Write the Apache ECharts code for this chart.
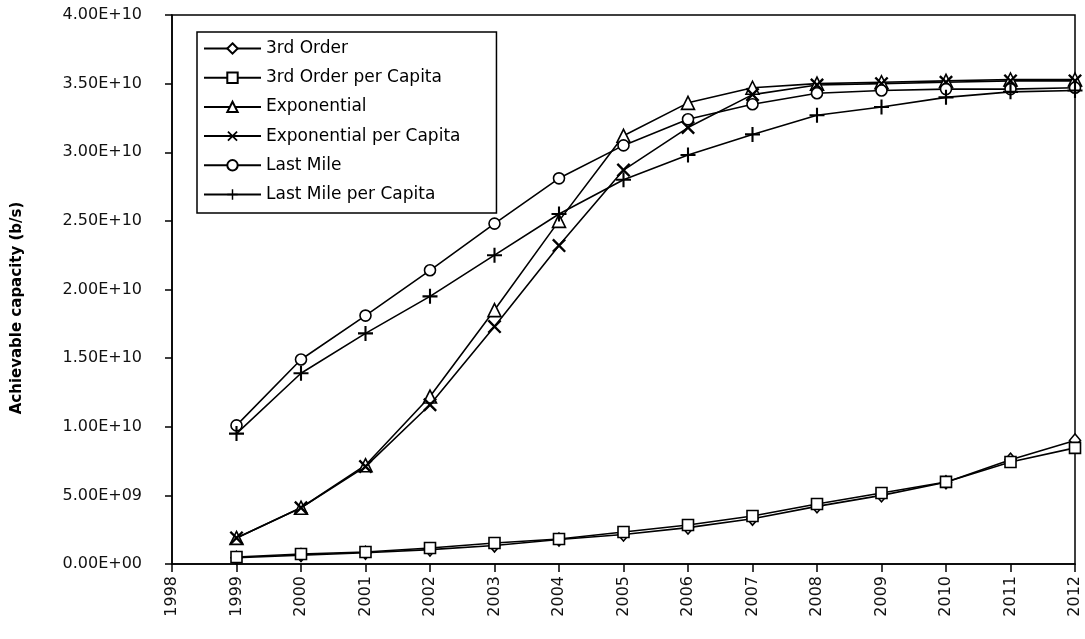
<!DOCTYPE html>
<html>
<head>
<meta charset="utf-8">
<script src="https://cdn.jsdelivr.net/npm/echarts@6/dist/echarts.min.js"></script>
<style>
html,body{margin:0;padding:0;background:#fff;}
#chart{width:1085px;height:639px;}
</style>
</head>
<body>
<div id="chart"></div>
<script>
var years = [1999,2000,2001,2002,2003,2004,2005,2006,2007,2008,2009,2010,2011,2012];
var thirdOrder = [4.5e8,6.5e8,8.2e8,1.05e9,1.35e9,1.78e9,2.15e9,2.65e9,3.3e9,4.2e9,5.0e9,5.95e9,7.6e9,9.0e9];
var thirdOrderPC = [5.1e8,7.3e8,8.7e8,1.17e9,1.53e9,1.82e9,2.33e9,2.84e9,3.5e9,4.37e9,5.17e9,5.98e9,7.43e9,8.46e9];
var exponential = [1.9e9,4.1e9,7.2e9,1.22e10,1.85e10,2.5e10,3.12e10,3.36e10,3.47e10,3.50e10,3.51e10,3.52e10,3.53e10,3.53e10];
var exponentialPC = [1.9e9,4.1e9,7.1e9,1.16e10,1.73e10,2.32e10,2.87e10,3.18e10,3.42e10,3.49e10,3.50e10,3.51e10,3.52e10,3.52e10];
var lastMile = [1.01e10,1.49e10,1.81e10,2.14e10,2.48e10,2.81e10,3.05e10,3.24e10,3.35e10,3.43e10,3.45e10,3.46e10,3.46e10,3.47e10];
var lastMilePC = [9.5e9,1.39e10,1.68e10,1.95e10,2.25e10,2.55e10,2.80e10,2.98e10,3.13e10,3.27e10,3.33e10,3.40e10,3.44e10,3.45e10];
var seriesNames = ['3rd Order','3rd Order per Capita','Exponential','Exponential per Capita','Last Mile','Last Mile per Capita'];
var yTicks = {min:0, max:4e10, interval:5e9};
var xTicks = {min:1998, max:2012, interval:1};

function pairs(arr){ return years.map(function(y,i){ return [y, arr[i]]; }); }
function fmt(v){
  if (v === 0) return '0.00E+00';
  var e = Math.floor(Math.log10(v) + 1e-9);
  var m = v / Math.pow(10, e);
  return m.toFixed(2) + 'E+' + (e < 10 ? '0' + e : e);
}
var FONT = 'DejaVu Sans';
var crossX = 'path://M0,1.2 L1.2,0 L10,8.8 L8.8,10 Z M8.8,0 L10,1.2 L1.2,10 L0,8.8 Z';
var plus = 'path://M4.3,0 H5.7 V4.3 H10 V5.7 H5.7 V10 H4.3 V5.7 H0 V4.3 H4.3 Z';

function mk(name, data, symbol, size, hollow){
  return {
    name: name, type: 'line', data: pairs(data),
    symbol: symbol, symbolSize: size, showAllSymbol: true,
    lineStyle: {color:'#000', width:1.6},
    itemStyle: hollow ? {color:'#fff', borderColor:'#000', borderWidth:1.6} : {color:'#000', borderWidth:0},
    emphasis: {disabled:true}
  };
}

var chart = echarts.init(document.getElementById('chart'));
chart.setOption({
  animation: false,
  backgroundColor: '#fff',
  grid: {left:172, right:10, top:15, bottom:75, show:true, borderColor:'#000', borderWidth:1.5, backgroundColor:'transparent'},
  legend: {
    orient: 'vertical', left: 197, top: 32,
    itemWidth: 57, itemHeight: 13, itemGap: 12.2,
    padding: [8, 36, 10, 6],
    borderColor: '#000', borderWidth: 1.5,
    textStyle: {fontFamily: FONT, fontSize: 17, color: '#000'},
    data: seriesNames
  },
  xAxis: {
    type: 'value', min: xTicks.min, max: xTicks.max, interval: xTicks.interval,
    axisLine: {lineStyle:{color:'#000', width:1.5}},
    axisTick: {show:true, length:8, lineStyle:{color:'#000', width:1.5}},
    splitLine: {show:false},
    axisLabel: {rotate: 90, margin: 12, fontFamily: FONT, fontSize: 16, color:'#111', formatter: function(v){ return String(v); }}
  },
  yAxis: {
    type: 'value', min: yTicks.min, max: yTicks.max, interval: yTicks.interval,
    name: 'Achievable capacity (b/s)', nameLocation: 'middle', nameGap: 147, nameRotate: 90,
    nameTextStyle: {fontFamily: FONT, fontSize: 15, fontWeight: 'bold', color:'#000', padding:[0, 37, 0, 0]},
    axisLine: {show:true, lineStyle:{color:'#000', width:1.5}},
    axisTick: {show:true, length:7, lineStyle:{color:'#000', width:1.5}},
    splitLine: {show:false},
    axisLabel: {margin: 30, fontFamily: FONT, fontSize: 16, color:'#111', formatter: fmt}
  },
  series: [
    mk(seriesNames[0], thirdOrder, 'diamond', [11,13], true),
    mk(seriesNames[1], thirdOrderPC, 'rect', 11, true),
    mk(seriesNames[2], exponential, 'triangle', 13, true),
    mk(seriesNames[3], exponentialPC, crossX, 14, false),
    mk(seriesNames[4], lastMile, 'circle', 11, true),
    mk(seriesNames[5], lastMilePC, plus, 15, false)
  ]
});
</script>
</body>
</html>
